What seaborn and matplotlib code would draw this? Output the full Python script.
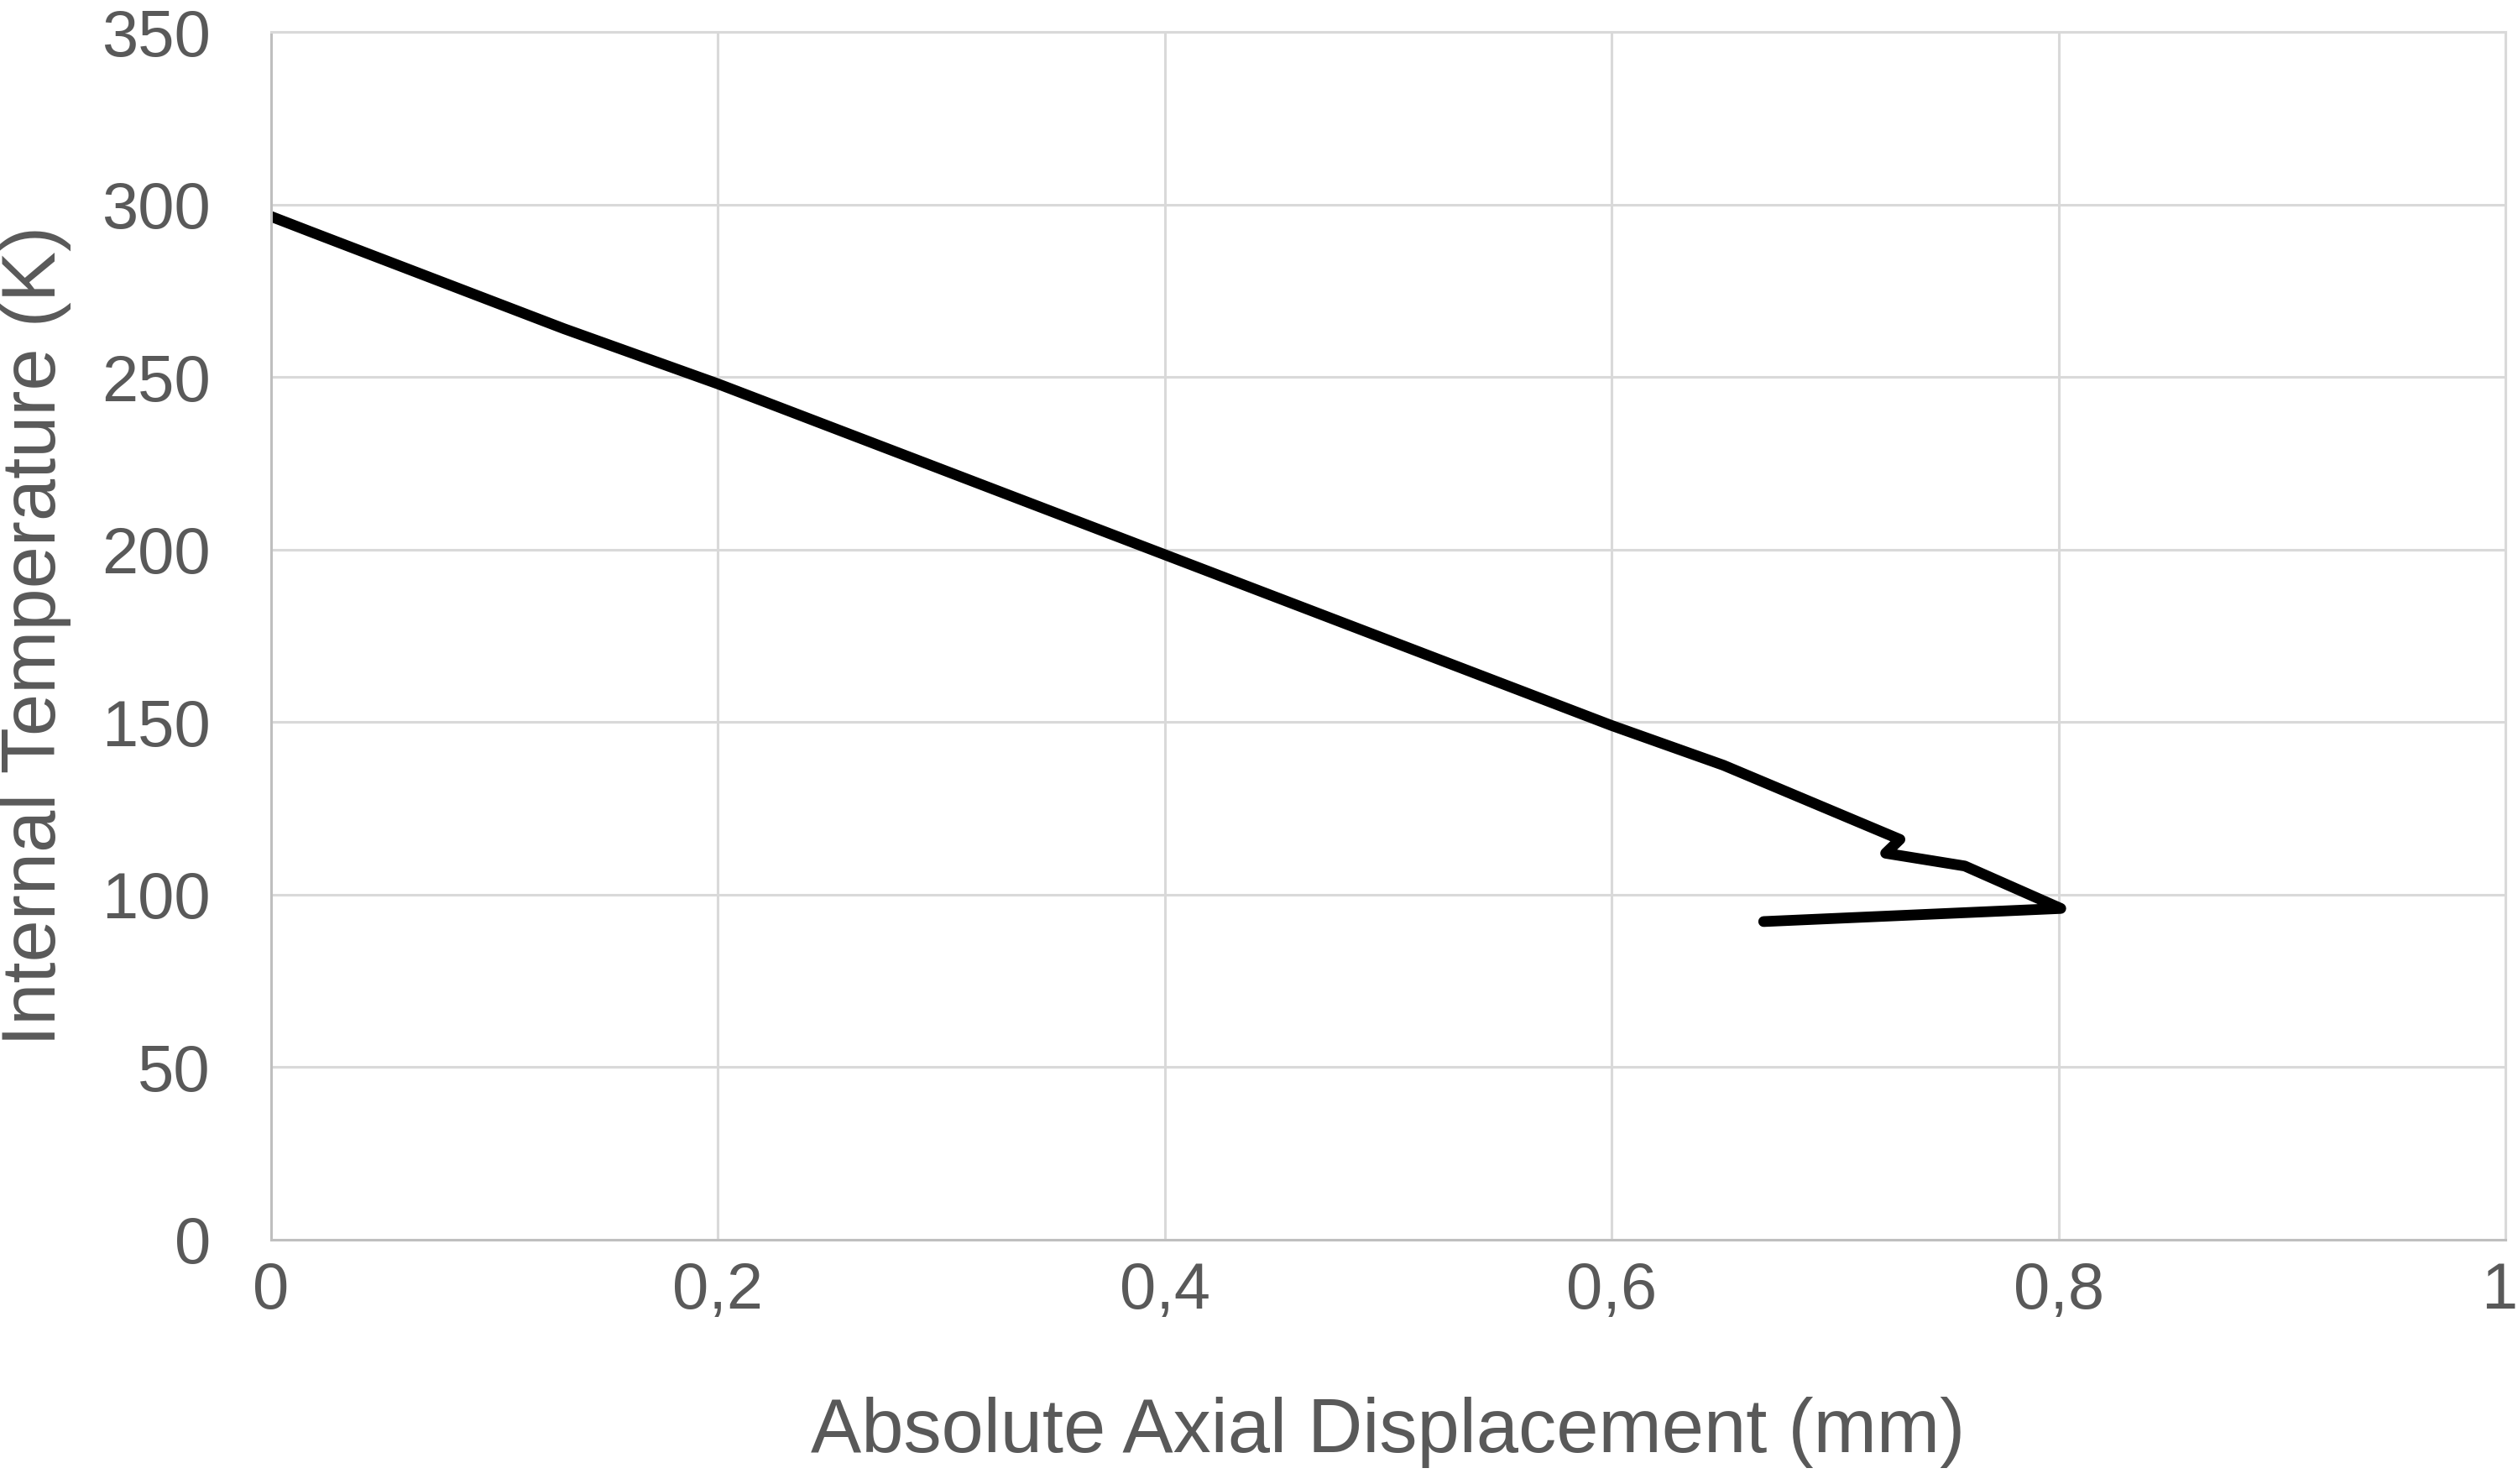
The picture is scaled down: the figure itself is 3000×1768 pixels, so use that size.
import pandas as pd
import matplotlib.pyplot as plt
import matplotlib.transforms as mtransforms
import seaborn as sns

# values
displacement = [0.0, 0.018, 0.131, 0.2, 0.4, 0.6, 0.65, 0.729, 0.7226, 0.758, 0.801, 0.668]
temperature = [296.5, 292, 264, 248, 198.5, 149, 137.5, 116, 112, 108.3, 96, 92.2]

x_ticks = [0, 0.2, 0.4, 0.6, 0.8, 1]
x_tick_labels = ["0", "0,2", "0,4", "0,6", "0,8", "1"]
y_ticks = [0, 50, 100, 150, 200, 250, 300, 350]

df = pd.DataFrame({"disp": displacement, "temp": temperature})

sns.set_style("white")
plt.rcParams['font.family'] = ['Liberation Sans', 'DejaVu Sans']

fig = plt.figure(figsize=(15, 8.84), dpi=200)
ax = fig.add_axes([0.1077, 0.1646, 0.8873, 0.8139])

sns.lineplot(data=df, x="disp", y="temp", sort=False, estimator=None,
             color="black", linewidth=4.6, ax=ax)
ax.lines[0].set_solid_capstyle("round")
ax.lines[0].set_solid_joinstyle("round")

ax.set_xlim(0, 1)
ax.set_ylim(0, 350)
ax.set_xticks(x_ticks)
ax.set_xticklabels(x_tick_labels)
ax.set_yticks(y_ticks)

ax.grid(True, color="#d9d9d9", linewidth=1.1)
ax.set_axisbelow(True)
for side in ["top", "right"]:
    ax.spines[side].set_color("#d9d9d9")
    ax.spines[side].set_linewidth(1.1)
for side in ["left", "bottom"]:
    ax.spines[side].set_color("#bfbfbf")
    ax.spines[side].set_linewidth(1.1)

ax.tick_params(axis="x", length=0, pad=9, labelsize=28, labelcolor="#595959")
ax.tick_params(axis="y", length=0, pad=26, labelsize=28, labelcolor="#595959")

# keep the last x label inside the figure
last = ax.get_xticklabels()[-1]
last.set_horizontalalignment("right")
last.set_transform(last.get_transform() + mtransforms.ScaledTranslation(5 / 72, 0, fig.dpi_scale_trans))

ax.set_xlabel("Absolute Axial Displacement (mm)", fontsize=32.5, color="#595959", labelpad=32)
ax.set_ylabel("Internal Temperature (K)", fontsize=32.5, color="#595959", labelpad=13)

fig.savefig("out.png", dpi=200, facecolor="white")
